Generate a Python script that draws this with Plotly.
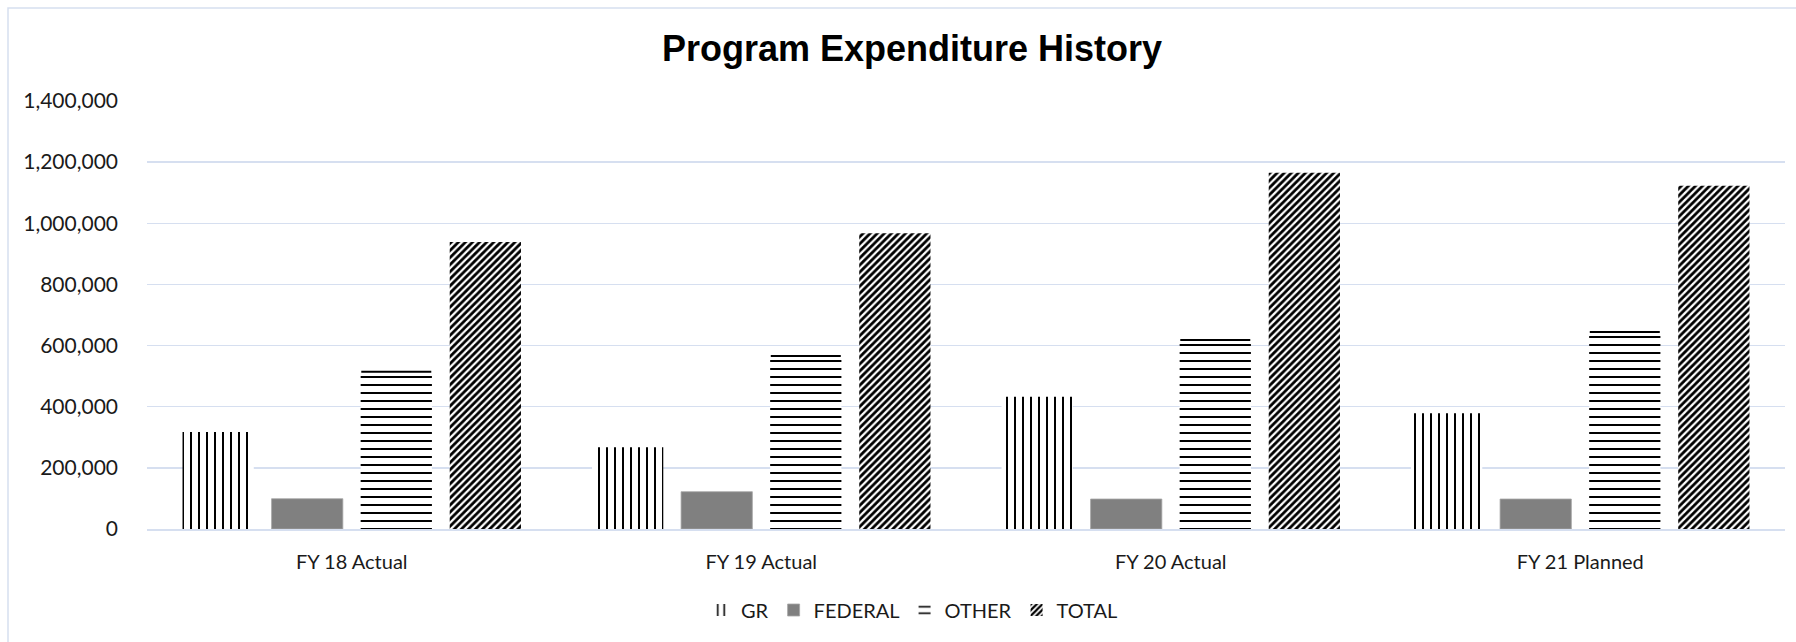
import plotly.graph_objects as go

categories = ["FY 18 Actual", "FY 19 Actual", "FY 20 Actual", "FY 21 Planned"]
gr = [317000, 267000, 433000, 379000]
federal = [99000, 122000, 98000, 98000]
other = [514000, 566000, 618000, 644000]
total = [939000, 967000, 1165000, 1123000]
y_ticks = [0, 200000, 400000, 600000, 800000, 1000000, 1200000, 1400000]
y_tick_labels = ["0", "200,000", "400,000", "600,000", "800,000", "1,000,000", "1,200,000", "1,400,000"]

W, H = 1796, 642
L, R, T, B = 147, 11, 101, 113
pw, ph = W - L - R, H - T - B

fig = go.Figure()
fig.add_trace(go.Bar(
    name="GR", x=categories, y=gr,
    marker=dict(color="white", line=dict(width=0),
                pattern=dict(shape="|", fgcolor="black", bgcolor="white",
                             size=8, solidity=0.25, fillmode="replace")),
))
fig.add_trace(go.Bar(
    name="FEDERAL", x=categories, y=federal,
    marker=dict(color="#808080", line=dict(width=0.8, color="#a6a6a6")),
))
fig.add_trace(go.Bar(
    name="OTHER", x=categories, y=other,
    marker=dict(color="white", line=dict(width=0),
                pattern=dict(shape="-", fgcolor="black", bgcolor="white",
                             size=8, solidity=0.25, fillmode="replace")),
    # top edge line of the striped bar (zero-length error bar cap)
    error_y=dict(type="data", array=[0] * len(other), visible=True,
                 width=35, thickness=2, color="black"),
))
fig.add_trace(go.Bar(
    name="TOTAL", x=categories, y=total,
    marker=dict(color="white", line=dict(width=0),
                pattern=dict(shape="/", fgcolor="black", bgcolor="white",
                             size=5, solidity=0.55, fillmode="replace")),
))

# outer chart border
fig.add_shape(type="rect", xref="paper", yref="paper",
              x0=(8 - L) / pw, x1=(W + 20 - L) / pw,
              y0=-(H + 20 - (H - B)) / ph, y1=((H - B) - 8) / ph,
              line=dict(color="#d6dff0", width=1.5), fillcolor="rgba(0,0,0,0)",
              layer="below")

fig.update_layout(
    width=W, height=H, autosize=False,
    margin=dict(l=L, r=R, t=T, b=B),
    paper_bgcolor="white", plot_bgcolor="white",
    barmode="group", bargap=0.13, bargroupgap=0.2,
    font=dict(family="Lato, Calibri, sans-serif", size=21, color="#1a1a1a"),
    title=dict(text="<b>Program Expenditure History</b>",
               font=dict(family="Liberation Sans, Arial, sans-serif", size=36, color="black"),
               xref="container", x=912 / W, xanchor="center",
               yref="container", y=1 - 48 / H, yanchor="middle"),
    xaxis=dict(showgrid=False, showline=True, linecolor="#d6dff0", linewidth=1.5,
               ticks="", ticklabelstandoff=14, tickfont=dict(size=20)),
    yaxis=dict(range=[0, 1400000], tickvals=y_ticks, ticktext=y_tick_labels,
               showgrid=True, gridcolor="#d6dff0", gridwidth=1.5,
               zeroline=False, showline=False, ticks="", ticklabelstandoff=28,
               tickfont=dict(size=21)),
    legend=dict(orientation="h", xref="container", x=912 / W, xanchor="center",
                yref="container", y=1 - 610 / H, yanchor="middle",
                font=dict(size=20), itemwidth=30, traceorder="normal"),
    showlegend=True,
    hovermode=False,
)

fig.write_html("out.html",
               config={"displayModeBar": False, "staticPlot": True},
               post_script="document.body.style.margin='0px';document.body.style.overflow='hidden';")
